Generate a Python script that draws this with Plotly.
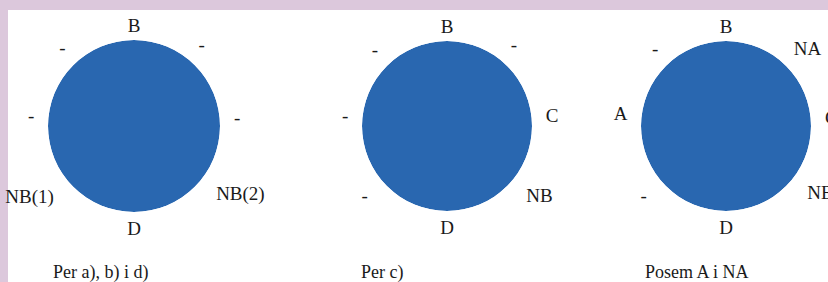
import plotly.graph_objects as go

# Data
captions = ["Per a), b) i d)", "Per c)", "Posem A i NA"]
labels_1 = ["B", "-", "-", "NB(2)", "D", "NB(1)", "-", "-"]
labels_2 = ["B", "-", "C", "NB", "D", "-", "-", "-"]
labels_3 = ["B", "NA", "C", "NB", "D", "-", "A", "-"]
disk_values = [1, 1, 1]

BLUE = "#2967b0"
PINK = "#dcc8dc"
FONT = "Liberation Serif"
TXT = "#1a1a1a"

label_sets = [labels_1, labels_2, labels_3]
# clockwise angles from the top for the 8 label slots, per chart
tick_angles = [
    [0, 40, 85, 125, 180, 233, 276, 317],
    [0, 40, 84, 127, 180, 233, 276, 316],
    [0, 43, 85, 125, 180, 233, 277, 317],
]

W, H = 828, 282
domains_px = [(48, 220), (362, 532), (641, 811)]
top_px, bot_px = 40, 212
caption_x = [100, 382, 697]


def axis_style(vals, texts, ticklen):
    return dict(
        direction="clockwise", rotation=90,
        tickmode="array", tickvals=vals, ticktext=texts,
        showgrid=False, showline=False,
        ticks="outside", ticklen=ticklen, tickcolor="rgba(0,0,0,0)",
        tickfont=dict(family=FONT, size=19, color=TXT),
    )


fig = go.Figure()
layout_polars = {}
n = 0
for i, (labels, val) in enumerate(zip(label_sets, disk_values)):
    x0, x1 = domains_px[i]
    dom = dict(x=[x0 / W, x1 / W], y=[(H - bot_px) / H, (H - top_px) / H])
    angles = tick_angles[i]
    vert = [k for k in range(8) if angles[k] in (0, 180)]
    other = [k for k in range(8) if k not in vert]

    # main disk subplot: top / bottom labels
    n += 1
    name = "polar" if n == 1 else f"polar{n}"
    fig.add_trace(go.Barpolar(
        r=[val], theta=[180], width=[360],
        marker=dict(color=BLUE, line=dict(width=0)),
        subplot=name, showlegend=False, hoverinfo="skip",
    ))
    layout_polars[name] = dict(
        domain=dom, bgcolor="rgba(0,0,0,0)",
        radialaxis=dict(visible=False, range=[0, val]),
        angularaxis=axis_style([angles[k] for k in vert], [labels[k] for k in vert], 0),
    )

    # overlay subplot with the same domain: side / diagonal labels
    n += 1
    name = f"polar{n}"
    fig.add_trace(go.Barpolar(
        r=[0], theta=[180], width=[360],
        marker=dict(color="rgba(0,0,0,0)", line=dict(width=0)),
        subplot=name, showlegend=False, hoverinfo="skip",
    ))
    layout_polars[name] = dict(
        domain=dom, bgcolor="rgba(0,0,0,0)",
        radialaxis=dict(visible=False, range=[0, val]),
        angularaxis=axis_style([angles[k] for k in other], [labels[k] for k in other], 10),
    )

annotations = [
    dict(text=c, x=cx / W, y=(H - 272) / H, xref="paper", yref="paper",
         showarrow=False, xanchor="center", yanchor="middle",
         font=dict(family=FONT, size=18, color=TXT))
    for c, cx in zip(captions, caption_x)
]

fig.update_layout(
    width=W, height=H,
    margin=dict(l=0, r=0, t=0, b=0),
    paper_bgcolor=PINK,
    plot_bgcolor="white",
    annotations=annotations,
    shapes=[dict(type="rect", xref="paper", yref="paper",
                 x0=8 / W, x1=1, y0=0, y1=(H - 10) / H,
                 fillcolor="white", line=dict(width=0), layer="below")],
    **layout_polars,
)

fig.write_html(
    "out.html",
    config={"displayModeBar": False},
    post_script="document.body.style.margin='0';document.body.style.overflow='hidden';",
)
